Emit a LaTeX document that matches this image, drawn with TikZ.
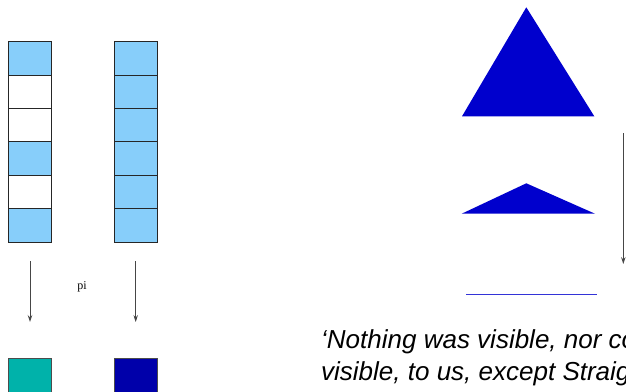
\documentclass[tikz,border=0pt]{standalone}
\usepackage{fontspec}
\setmainfont{Liberation Serif}
\newfontfamily\quotefont{Liberation Sans}
\usetikzlibrary{arrows.meta}
\definecolor{cellblue}{RGB}{135,206,250}
\definecolor{tealsq}{RGB}{0,178,170}
\definecolor{navysq}{RGB}{0,0,170}
\definecolor{triblue}{RGB}{0,0,205}
\definecolor{linegrey}{RGB}{70,70,70}
\tikzset{
  cell/.style={draw=black!85, line width=0.9pt, minimum width=42.7pt, minimum height=33.4pt, inner sep=0pt, outer sep=0pt},
  bluecell/.style={cell, fill=cellblue},
  whitecell/.style={cell, fill=white},
  flow/.style={draw=linegrey, line width=0.8pt, -{Stealth[length=7pt,width=4.5pt,inset=2.5pt]}},
  sq/.style={draw=black!70, line width=0.9pt, minimum width=42.7pt, minimum height=42pt, inner sep=0pt, anchor=north},
  tri/.style={fill=triblue},
  quote/.style={font=\quotefont\itshape\fontsize{26}{32}\selectfont, anchor=base west, inner sep=0pt}
}
\begin{document}
\begin{tikzpicture}[x=1pt,y=-1pt]
\useasboundingbox (0,0) rectangle (626,391);
% left column
\node[bluecell]  (l1) at (29.6,58.4) {};
\node[whitecell] (l2) at (29.6,91.8) {};
\node[whitecell] (l3) at (29.6,125.2) {};
\node[bluecell]  (l4) at (29.6,158.6) {};
\node[whitecell] (l5) at (29.6,192.0) {};
\node[bluecell]  (l6) at (29.6,225.4) {};
% right column
\node[bluecell] (r1) at (136.2,58.4) {};
\node[bluecell] (r2) at (136.2,91.8) {};
\node[bluecell] (r3) at (136.2,125.2) {};
\node[bluecell] (r4) at (136.2,158.6) {};
\node[bluecell] (r5) at (136.2,192.0) {};
\node[bluecell] (r6) at (136.2,225.4) {};
% arrows
\coordinate (a1s) at (30,261);
\coordinate (a1e) at (30,322);
\coordinate (a2s) at (135.7,261);
\coordinate (a2e) at (135.7,322);
\draw[flow] (a1s) -- (a1e);
\draw[flow] (a2s) -- (a2e);
\node[font=\fontsize{12}{14}\selectfont] (pi) at (82,286.5) {pi};
% bottom squares
\node[sq, fill=tealsq] (sqa) at (29.6,357.7) {};
\node[sq, fill=navysq] (sqb) at (136.2,357.7) {};
% triangles
\fill[tri] (526.3,7.3) -- (594.3,116.3) -- (462,116.3) -- cycle;
\fill[tri] (526.3,183.3) -- (595,213.7) -- (461.7,213.7) -- cycle;
\draw[triblue!80!white, line width=1pt] (466,294.7) -- (596.7,294.7);
% right arrow
\coordinate (a3s) at (623.3,133.3);
\coordinate (a3e) at (623.3,264);
\draw[flow] (a3s) -- (a3e);
% quote
\node[quote] (q1) at (321,348) {‘Nothing was visible, nor could be};
\node[quote] (q2) at (321,380) {visible, to us, except Straight Lines};
\end{tikzpicture}
\end{document}
